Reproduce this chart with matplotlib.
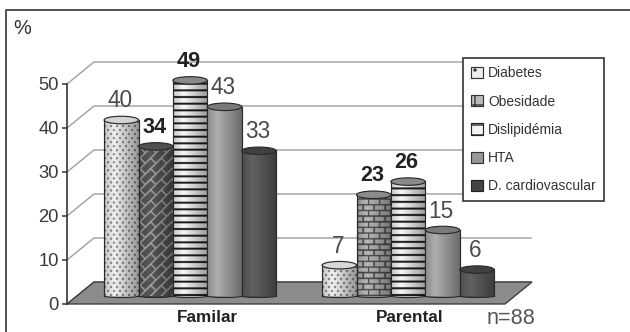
import matplotlib
matplotlib.use('Agg')
from matplotlib import pyplot as plt
from matplotlib.lines import Line2D
from matplotlib.patches import Ellipse, Patch, Polygon
import numpy as np

W, H = 630, 332
DPI = 120

groups = ['Familar', 'Parental']
series = ['Diabetes', 'Obesidade', 'Dislipidémia', 'HTA', 'D. cardiovascular']
familiar = [40, 34, 49, 43, 33]
parental = [7, 23, 26, 15, 6]
bold_familiar = [False, True, True, False, False]
bold_parental = [False, True, True, False, False]
y_ticks = [0, 10, 20, 30, 40, 50]

plt.rcParams['font.family'] = ['Liberation Sans', 'DejaVu Sans']
plt.rcParams['hatch.linewidth'] = 0.8

fig = plt.figure(figsize=(W / DPI, H / DPI), dpi=DPI, facecolor='white')

# outer border, only top and left sides are there
fig.add_artist(Line2D([5.5 / W, 5.5 / W, 1], [0, 1 - 10 / H, 1 - 10 / H], transform=fig.transFigure,
                      color='#555555', lw=1.2))

# axes starts at the front-left corner of the 3d box, 4.4 px per percent
x0 = -0.5647
ax_left, ax_base = 67, 304
ax = fig.add_axes([ax_left / W, 1 - ax_base / H, (W - ax_left) / W, 220 / H])
ax.patch.set_alpha(0)
px_x = 1 / 218
x1 = x0 + (W - ax_left) * px_x
px_y = 50 / 220

dx = 27 * px_x
dy = 22 * px_y
wall_right = x0 + (531 - ax_left) * px_x

# back wall lines and floor
for t in y_ticks:
    ax.plot([x0, x0 + dx, wall_right], [t, t + dy, t + dy], color='#a4a4a4', lw=0.9,
            clip_on=False, zorder=1)
ax.add_patch(Polygon([(x0, 0), (x0 + dx, dy), (wall_right + px_x, dy),
                      (wall_right + px_x - dx, 0)], closed=True, fc='#8c8c8c', ec='#3a3a3a', lw=0.8,
                     clip_on=False, zorder=2))

bar_w = 34.4 * px_x
bar_base = 8 * px_y
SS = 3  # texture pixels per screen pixel


def texture(kind, w, h, base, line):
    # grey level per pixel of a bar side, y counted from the bottom
    xx, yy = np.meshgrid((np.arange(w * SS) + 0.5) / SS, (np.arange(h * SS) + 0.5) / SS)
    img = np.full(xx.shape, base, dtype=float)
    if kind == 'dots':
        row = np.floor(yy / 4.0)
        col = xx + 3.0 * (row % 2)
        hit = ((col % 6.0) < 2.0) & ((yy % 4.0) < 2.0)
        img[hit] = line
    elif kind == 'stripes':
        img[(yy % 6.6) < 2.0] = line
    elif kind in ('bricks', 'bricks45'):
        u, v = xx, yy
        if kind == 'bricks45':
            u, v = (xx + yy) * 0.7071, (xx - yy) * 0.7071
        row_h = 5.6 if kind == 'bricks' else 7.5
        brick_w = 11.0 if kind == 'bricks' else 15.0
        row = np.floor(v / row_h)
        hit = ((v % row_h) < 1.5) | (((u + brick_w / 2 * (row % 2)) % brick_w) < 1.5)
        img[hit] = line
    # cylinder shading across the width, lightest left of the middle
    t = xx / w
    light = np.where(t < 0.3, 0.8 + 0.2 * t / 0.3, 1.0 - 0.38 * (t - 0.3) / 0.7)
    return np.clip(img * light, 0, 1)


def cylinder(x, value, style, bold, z):
    kind, base, line, cap = style
    top = bar_base + value
    hw = bar_w / 2
    ax.bar(x, value, width=bar_w, bottom=bar_base, color=str(base), lw=0, zorder=z, clip_on=False)
    ax.add_patch(Ellipse((x, bar_base), bar_w, 3 * px_y, fc=str(base * 0.8), ec='#2a2a2a', lw=0.7,
                         zorder=z - 0.1, clip_on=False))
    tex = texture(kind, 35, int(round(value / px_y)), base, line)
    ax.imshow(tex, cmap='gray', vmin=0, vmax=1, extent=[x - hw, x + hw, bar_base, top], origin='lower',
              aspect='auto', interpolation='hanning', zorder=z + 0.1, clip_on=False)
    ax.plot([x - hw, x - hw], [bar_base, top], color='#2a2a2a', lw=0.7, zorder=z + 0.2, clip_on=False)
    ax.plot([x + hw, x + hw], [bar_base, top], color='#2a2a2a', lw=0.7, zorder=z + 0.2, clip_on=False)
    ax.add_patch(Ellipse((x, top), bar_w, 7.5 * px_y, fc=cap, ec='#2a2a2a', lw=0.7,
                         zorder=z + 0.3, clip_on=False))
    ax.text(x - 1.5 * px_x, top + 19 * px_y, str(value), ha='center', va='center',
            fontsize=13 if bold else 13.5, color='#222222' if bold else '#4a4a4a',
            fontweight='bold' if bold else 'normal', zorder=20, clip_on=False)


styles_fam = [('dots', 0.94, 0.5, '#d4d4d4'), ('bricks45', 0.34, 0.66, '#505050'),
              ('stripes', 0.97, 0.12, '#8a8a8a'), ('plain', 0.68, 0.68, '#7a7a7a'),
              ('plain', 0.38, 0.38, '#404040')]
styles_par = [('dots', 0.94, 0.5, '#d8d8d8'), ('bricks', 0.72, 0.30, '#8c8c8c'),
              ('stripes', 0.97, 0.12, '#8a8a8a'), ('plain', 0.68, 0.68, '#7a7a7a'),
              ('plain', 0.38, 0.38, '#404040')]

for g, (vals, styles, bolds) in enumerate([(familiar, styles_fam, bold_familiar),
                                           (parental, styles_par, bold_parental)]):
    for i, v in enumerate(vals):
        cylinder(g + (i - 2) * bar_w, v, styles[i], bolds[i], 5 + i)

ax.set_xlim(x0, x1)
ax.set_ylim(0, 50)

# y axis stays on the front-left edge
for s in ['top', 'right', 'bottom']:
    ax.spines[s].set_visible(False)
ax.spines['left'].set_color('#333333')
ax.spines['left'].set_linewidth(1.0)
ax.set_yticks(y_ticks)
ax.tick_params(axis='y', length=3, width=0.9, color='#333333', labelsize=11, labelcolor='#3a3a3a', pad=2)
ax.set_xticks([0.08, 1.005])
ax.set_xticklabels(groups, fontsize=10.3, fontweight='bold', color='#222222')
ax.tick_params(axis='x', length=0, pad=3.5)

leg_handles = [Patch(facecolor='#eeeeee', edgecolor='#333333', hatch='..', lw=0.7),
               Patch(facecolor='#bbbbbb', edgecolor='#333333', hatch='++', lw=0.7),
               Patch(facecolor='#f4f4f4', edgecolor='#222222', hatch='--', lw=0.7),
               Patch(facecolor='#999999', edgecolor='#333333', lw=0.7),
               Patch(facecolor='#444444', edgecolor='#222222', lw=0.7)]
leg = fig.legend(leg_handles, series, loc='upper left',
                 bbox_to_anchor=(463 / W, 1 - 58 / H), fancybox=False, framealpha=1, edgecolor='#333333',
                 prop={'size': 8.35}, labelcolor='#333333', handlelength=0.86, handleheight=0.86,
                 handletextpad=0.35, labelspacing=1.02, borderpad=0.6, borderaxespad=0)
leg.get_frame().set_linewidth(1.0)
leg.set_zorder(30)

fig.text(13 / W, 1 - 29 / H, '%', fontsize=12, color='#333333', ha='left', va='center')
fig.text(487 / W, 1 - 318 / H, 'n=88', fontsize=13, color='#555555', ha='left', va='center')

fig.savefig('out.png', dpi=DPI)
